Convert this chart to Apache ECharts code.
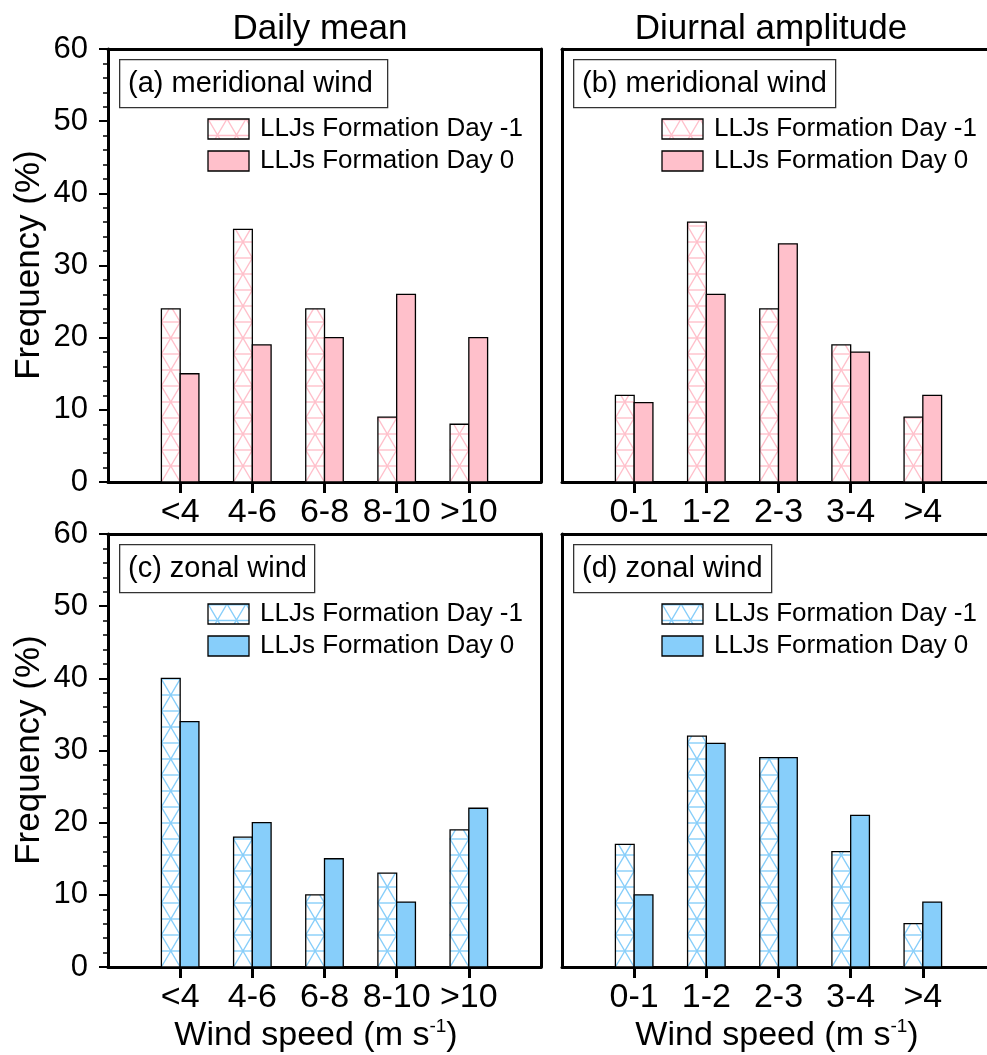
<!DOCTYPE html>
<html>
<head>
<meta charset="utf-8">
<script src="https://cdn.jsdelivr.net/npm/echarts@6/dist/echarts.min.js"></script>
<style>
html,body{margin:0;padding:0;background:#fff;overflow:hidden;width:987px;height:1055px;}
#chart{width:987px;height:1055px;overflow:hidden;}
</style>
</head>
<body>
<div id="chart"></div>
<script>
// ---- data ----
const catsMean = ['<4', '4-6', '6-8', '8-10', '>10'];
const catsAmp = ['0-1', '1-2', '2-3', '3-4', '>4'];
const seriesNames = ['LLJs Formation Day -1', 'LLJs Formation Day 0'];
const meridMeanDay1 = [24, 35, 24, 9, 8];
const meridMeanDay0 = [15, 19, 20, 26, 20];
const meridAmpDay1 = [12, 36, 24, 19, 9];
const meridAmpDay0 = [11, 26, 33, 18, 12];
const zonalMeanDay1 = [40, 18, 10, 13, 19];
const zonalMeanDay0 = [34, 20, 15, 9, 22];
const zonalAmpDay1 = [17, 32, 29, 16, 6];
const zonalAmpDay0 = [10, 31, 29, 21, 9];
const yTickValues = [0, 10, 20, 30, 40, 50, 60];

const PINK = '#FFC0CB';
const BLUE = '#87CEFA';
const FONT = '"Liberation Sans", Arial, Helvetica, sans-serif';

const panels = [
  {left: 108, top: 49, cats: catsMean, d1: meridMeanDay1, d0: meridMeanDay0, color: PINK, label: '(a) meridional wind', boxW: 268, yLabels: true},
  {left: 562, top: 49, cats: catsAmp, d1: meridAmpDay1, d0: meridAmpDay0, color: PINK, label: '(b) meridional wind', boxW: 262, yLabels: false},
  {left: 108, top: 534, cats: catsMean, d1: zonalMeanDay1, d0: zonalMeanDay0, color: BLUE, label: '(c) zonal wind', boxW: 195, yLabels: true},
  {left: 562, top: 534, cats: catsAmp, d1: zonalAmpDay1, d0: zonalAmpDay0, color: BLUE, label: '(d) zonal wind', boxW: 198, yLabels: false}
];
const GW = 433, GH = 433;
const BARW = 0.26;

function makePattern(color) {
  const c = document.createElement('canvas');
  c.width = 19; c.height = 32;
  const ctx = c.getContext('2d');
  ctx.fillStyle = '#fff'; ctx.fillRect(0, 0, 19, 32);
  ctx.strokeStyle = color; ctx.lineWidth = 1.4;
  ctx.beginPath();
  ctx.moveTo(0, 0.7); ctx.lineTo(19, 0.7);
  ctx.moveTo(0, 16.5); ctx.lineTo(19, 16.5);
  ctx.moveTo(0, 0); ctx.lineTo(19, 32);
  ctx.moveTo(19, 0); ctx.lineTo(0, 32);
  ctx.stroke();
  return c;
}

function zig(xl, xr, yb, yt, startLeft) {
  const P = 32;
  const pts = [[startLeft ? xl : xr, yb]];
  let y = yb, left = startLeft;
  while (true) {
    const ny = y - P;
    if (ny <= yt) {
      const frac = (y - yt) / P;
      const px = left ? xl + frac * (xr - xl) : xr - frac * (xr - xl);
      pts.push([px, yt]);
      break;
    }
    pts.push([left ? xr : xl, ny]);
    y = ny; left = !left;
  }
  return pts;
}

function hatchChildren(xl, xr, yb, yt, color) {
  const ch = [];
  const ls = {stroke: color, lineWidth: 1.4, fill: null};
  for (let y = yb - 16; y > yt + 0.5; y -= 16) {
    ch.push({type: 'line', shape: {x1: xl, y1: y, x2: xr, y2: y}, style: ls, silent: true});
  }
  ch.push({type: 'polyline', shape: {points: zig(xl, xr, yb, yt, true)}, style: ls, silent: true});
  ch.push({type: 'polyline', shape: {points: zig(xl, xr, yb, yt, false)}, style: ls, silent: true});
  return ch;
}

function makeRender(color, hatched) {
  return function (params, api) {
    const x = api.value(0), v = api.value(1);
    const top = api.coord([x, v]);
    const bot = api.coord([x, 0]);
    const w = api.size([BARW, 0])[0];
    const xl = hatched ? top[0] - w : top[0];
    const xr = xl + w;
    const children = [];
    children.push({type: 'rect', shape: {x: xl, y: top[1], width: w, height: bot[1] - top[1]},
      style: {fill: hatched ? '#fff' : color, stroke: null}});
    if (hatched) children.push(...hatchChildren(xl, xr, bot[1], top[1], color));
    children.push({type: 'rect', shape: {x: xl, y: top[1], width: w, height: bot[1] - top[1]},
      style: {fill: null, stroke: '#000', lineWidth: 1.3}});
    return {type: 'group', children};
  };
}

const grids = [], xAxes = [], yAxes = [], series = [], graphics = [];
const extraX = [], extraY = [];
panels.forEach((p, i) => {
  grids.push({left: p.left, top: p.top, width: GW, height: GH, show: false,
    containLabel: false, outerBoundsMode: 'none'});
  const cats = p.cats;
  xAxes.push({
    type: 'value', gridIndex: i, min: 0, max: 6, interval: 1, position: 'bottom',
    axisLine: {show: true, onZero: false, lineStyle: {color: '#000', width: 3}},
    axisTick: {show: true, inside: false, length: 11, customValues: [1, 2, 3, 4, 5], lineStyle: {color: '#000', width: 3}},
    axisLabel: {show: true, customValues: [1, 2, 3, 4, 5], margin: 14, fontSize: 34, color: '#000', fontFamily: FONT,
      formatter: v => cats[Math.round(v) - 1] || ''},
    splitLine: {show: false}
  });
  yAxes.push({
    type: 'value', gridIndex: i, min: 0, max: 60, interval: 10, position: 'left',
    axisLine: {show: true, onZero: false, lineStyle: {color: '#000', width: 3}},
    axisTick: {show: p.yLabels, inside: false, length: 9, lineStyle: {color: '#000', width: 2}},
    minorTick: {show: p.yLabels, splitNumber: 5, length: 5, lineStyle: {color: '#000', width: 1.5}},
    axisLabel: {show: p.yLabels, margin: 20, fontSize: 31, color: '#000', fontFamily: FONT,
      customValues: yTickValues},
    splitLine: {show: false}
  });
  // frame: top line for every panel, right line only where it is inside the page
  extraX.push({
    type: 'value', gridIndex: i, min: 0, max: 6, position: 'top',
    axisLine: {show: true, onZero: false, lineStyle: {color: '#000', width: 3}},
    axisTick: {show: false}, axisLabel: {show: false}, splitLine: {show: false}
  });
  if (p.yLabels) {
    extraY.push({
      type: 'value', gridIndex: i, min: 0, max: 60, position: 'right',
      axisLine: {show: true, onZero: false, lineStyle: {color: '#000', width: 3}},
      axisTick: {show: false}, axisLabel: {show: false}, splitLine: {show: false}
    });
  }
  series.push({
    type: 'custom', name: seriesNames[0], xAxisIndex: i, yAxisIndex: i,
    renderItem: makeRender(p.color, true),
    data: p.d1.map((v, k) => [k + 1, v])
  });
  series.push({
    type: 'custom', name: seriesNames[1], xAxisIndex: i, yAxisIndex: i,
    renderItem: makeRender(p.color, false),
    data: p.d0.map((v, k) => [k + 1, v])
  });
  // panel label box
  graphics.push({type: 'rect', left: p.left + 11, top: p.top + 10, shape: {width: p.boxW, height: 48},
    style: {fill: '#fff', stroke: '#333', lineWidth: 1.3}, z: 100});
  graphics.push({type: 'text', x: p.left + 20, y: p.top + 35, z: 101,
    style: {text: p.label, fontSize: 29, fontFamily: FONT, fill: '#000', verticalAlign: 'middle'}});
  // legend
  const pat = makePattern(p.color);
  graphics.push({type: 'rect', x: p.left + 100, y: p.top + 70, shape: {x: 0, y: 0, width: 41, height: 20},
    style: {fill: {image: pat, repeat: 'repeat'}, stroke: '#000', lineWidth: 1.3}, z: 100});
  graphics.push({type: 'rect', x: p.left + 100, y: p.top + 102, shape: {x: 0, y: 0, width: 41, height: 20},
    style: {fill: p.color, stroke: '#000', lineWidth: 1.3}, z: 100});
  graphics.push({type: 'text', x: p.left + 152, y: p.top + 80, z: 101,
    style: {text: seriesNames[0], fontSize: 26, fontFamily: FONT, fill: '#000', verticalAlign: 'middle'}});
  graphics.push({type: 'text', x: p.left + 152, y: p.top + 112, z: 101,
    style: {text: seriesNames[1], fontSize: 26, fontFamily: FONT, fill: '#000', verticalAlign: 'middle'}});
});

// titles
graphics.push({type: 'text', x: 320, y: 29, style: {text: 'Daily mean', fontSize: 35, fontFamily: FONT, fill: '#000', align: 'center', verticalAlign: 'middle'}});
graphics.push({type: 'text', x: 771, y: 29, style: {text: 'Diurnal amplitude', fontSize: 35, fontFamily: FONT, fill: '#000', align: 'center', verticalAlign: 'middle'}});
// y titles
[265, 750].forEach(cy => {
  graphics.push({type: 'text', x: 29, y: cy, rotation: Math.PI / 2,
    style: {text: 'Frequency (%)', fontSize: 35, fontFamily: FONT, fill: '#000', align: 'center', verticalAlign: 'middle'}});
});
// x titles
[316, 777].forEach(cx => {
  graphics.push({type: 'text', x: cx, y: 1036,
    style: {text: '{a|Wind speed (m s}{s|-1}{a|)}', align: 'center', verticalAlign: 'middle',
      rich: {
        a: {fontSize: 34, fontFamily: FONT, fill: '#000', color: '#000'},
        s: {fontSize: 19, fontFamily: FONT, fill: '#000', color: '#000', padding: [0, 0, 18, 0]}
      }}});
});

const chart = echarts.init(document.getElementById('chart'), null, {renderer: 'canvas', width: 987, height: 1055});
chart.setOption({
  animation: false,
  backgroundColor: '#fff',
  grid: grids,
  xAxis: xAxes.concat(extraX),
  yAxis: yAxes.concat(extraY),
  series: series,
  graphic: {elements: graphics}
});
</script>
</body>
</html>
